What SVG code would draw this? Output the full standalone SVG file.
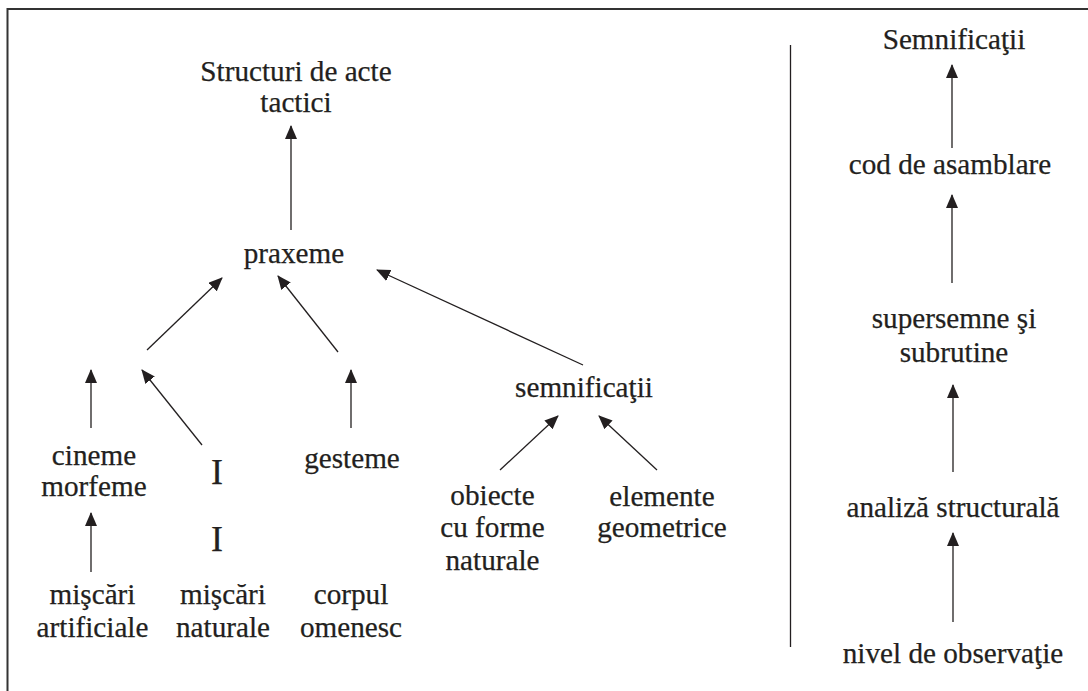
<svg xmlns="http://www.w3.org/2000/svg" width="1088" height="691" viewBox="0 0 1088 691">
<defs>
<marker id="ah" viewBox="0 0 14 12" refX="13" refY="6" markerWidth="14" markerHeight="12" markerUnits="userSpaceOnUse" orient="auto">
<path d="M0,0 L14,6 L0,12 Z" fill="#231f20"/>
</marker>
<style>
text{font-family:"Liberation Serif","Times New Roman",serif;font-size:29.2px;fill:#231f20;stroke:#231f20;stroke-width:0.25;text-anchor:middle}
.big{font-size:36px}
.c line{stroke:#231f20;stroke-width:1.3;marker-end:url(#ah)}
.frame{stroke:#333;stroke-width:2;fill:none}
</style>
</defs>
<rect width="1088" height="691" fill="#fff"/>
<path class="frame" d="M7.5,700 V9 H1100"/>
<line x1="790.5" y1="45" x2="790.5" y2="647" stroke="#231f20" stroke-width="1.3"/>
<g id="n-structuri"><text x="296" y="81">Structuri de acte</text><text x="296" y="112">tactici</text></g>
<g id="n-praxeme"><text x="294" y="263">praxeme</text></g>
<g id="n-cineme"><text x="94" y="465">cineme</text><text x="94" y="496">morfeme</text></g>
<g id="n-I1"><text class="big" x="217" y="484">I</text></g>
<g id="n-I2"><text class="big" x="217" y="551">I</text></g>
<g id="n-gesteme"><text x="352" y="468">gesteme</text></g>
<g id="n-misc1"><text x="92.5" y="604">mişcări</text><text x="92.5" y="637">artificiale</text></g>
<g id="n-misc2"><text x="223" y="604">mişcări</text><text x="223" y="637">naturale</text></g>
<g id="n-corpul"><text x="351" y="604">corpul</text><text x="351" y="637">omenesc</text></g>
<g id="n-semn"><text x="584" y="397">semnificaţii</text></g>
<g id="n-obiecte"><text x="492.5" y="505">obiecte</text><text x="492.5" y="537">cu forme</text><text x="492.5" y="570">naturale</text></g>
<g id="n-elemente"><text x="662" y="506">elemente</text><text x="662" y="537">geometrice</text></g>
<g id="n-Semn"><text x="954" y="49">Semnificaţii</text></g>
<g id="n-cod"><text x="950" y="174">cod de asamblare</text></g>
<g id="n-super"><text x="954" y="328">supersemne şi</text><text x="954" y="362">subrutine</text></g>
<g id="n-analiza"><text x="953" y="517">analiză structurală</text></g>
<g id="n-nivel"><text x="953" y="663">nivel de observaţie</text></g>
<g id="connectors" class="c">
<line x1="291" y1="230" x2="291" y2="126"/>
<line x1="147" y1="350" x2="222" y2="278"/>
<line x1="338" y1="352" x2="278" y2="276"/>
<line x1="583" y1="365" x2="377" y2="270"/>
<line x1="202" y1="445" x2="142" y2="370"/>
<line x1="91" y1="428" x2="91" y2="370"/>
<line x1="351" y1="428" x2="351" y2="370"/>
<line x1="91" y1="572" x2="91" y2="513"/>
<line x1="500" y1="470" x2="558" y2="416"/>
<line x1="657" y1="470" x2="599" y2="416"/>
<line x1="952" y1="148" x2="952" y2="65"/>
<line x1="952" y1="283" x2="952" y2="195"/>
<line x1="953" y1="472" x2="953" y2="385"/>
<line x1="953" y1="622" x2="953" y2="533"/>
</g>
</svg>
